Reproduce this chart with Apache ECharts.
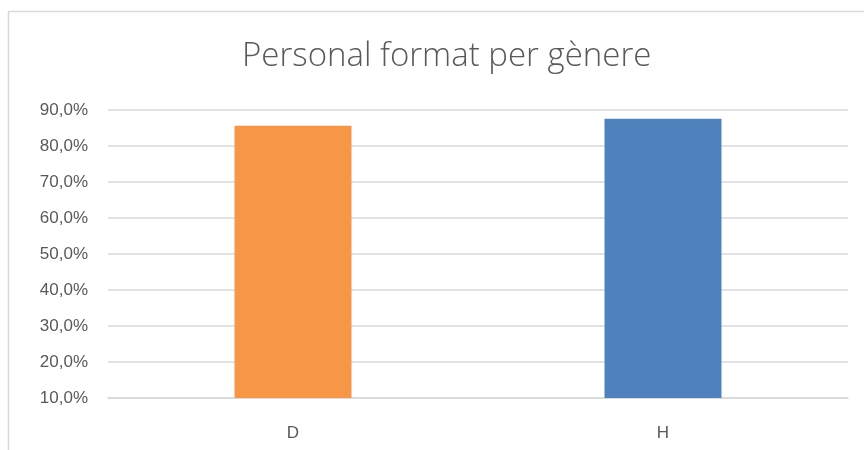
<!DOCTYPE html>
<html><head><meta charset="utf-8">
<script src="https://cdn.jsdelivr.net/npm/echarts@6/dist/echarts.min.js"></script>
<style>html,body{margin:0;padding:0;background:#fff}#c{width:864px;height:450px}</style>
</head><body><div id="c"></div>
<script>
const categories = ['D', 'H'];
const values = [85.6, 87.6];
const colors = ['#f79646', '#4f81bd'];
const yMin = 10, yMax = 90, yStep = 10;

const chart = echarts.init(document.getElementById('c'), null, {renderer: 'canvas'});
chart.setOption({
  animation: false,
  backgroundColor: '#fff',
  graphic: [{
    type: 'rect', shape: {x: 8.5, y: 11.5, width: 900, height: 500},
    style: {fill: 'none', stroke: '#d9d9d9', lineWidth: 1.5}, silent: true, z: -1
  }],
  title: {
    text: 'Personal format per gènere', left: 237, top: 35,
    textStyle: {fontFamily: 'Open Sans', fontWeight: 300, fontSize: 33, color: '#595959'}
  },
  grid: {left: 108, right: 16, top: 110, bottom: 52, containLabel: false},
  xAxis: {
    type: 'category', data: categories,
    axisLine: {lineStyle: {color: '#d9d9d9', width: 1.5}},
    axisTick: {show: false},
    axisLabel: {color: '#595959', fontSize: 17, fontFamily: 'Liberation Sans', margin: 27}
  },
  yAxis: {
    type: 'value', min: yMin, max: yMax, interval: yStep,
    axisLine: {show: false}, axisTick: {show: false},
    splitLine: {lineStyle: {color: '#d9d9d9', width: 1.5}},
    axisLabel: {color: '#595959', fontSize: 17, fontFamily: 'Liberation Sans', margin: 20,
      formatter: v => v.toFixed(1).replace('.', ',') + '%'}
  },
  series: [{
    type: 'bar', barWidth: 117,
    data: values.map((v, i) => ({value: v, itemStyle: {color: colors[i]}}))
  }]
});
</script></body></html>
